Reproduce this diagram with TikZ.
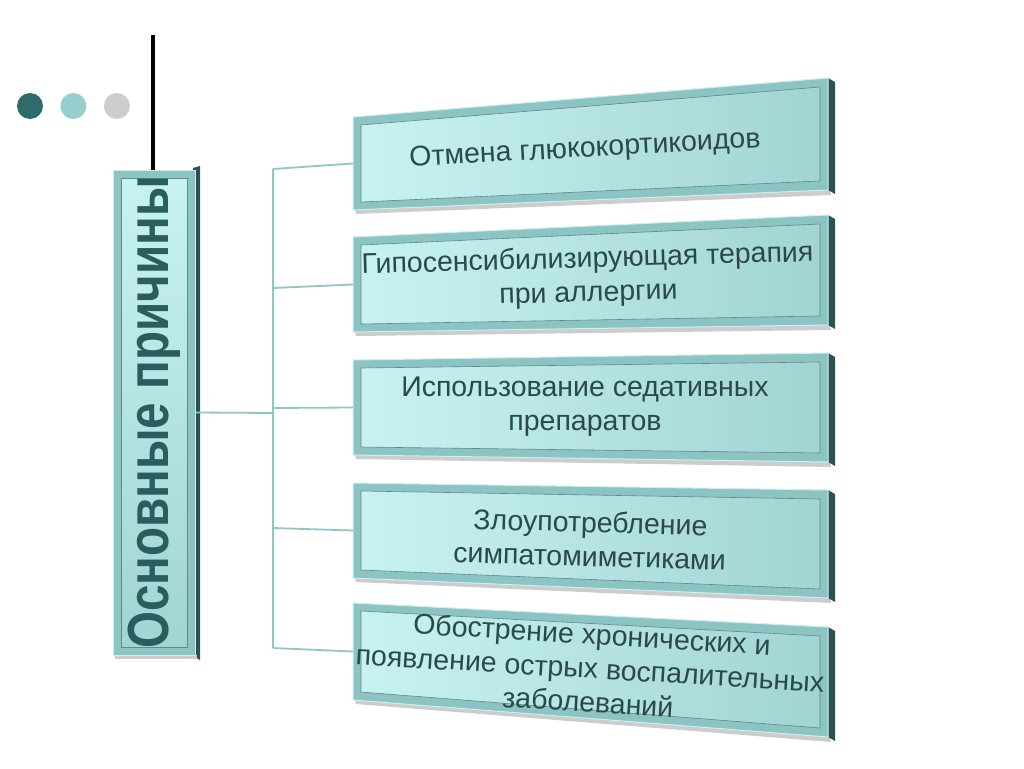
\documentclass[tikz,border=0pt]{standalone}
\usepackage{fontspec}
\setmainfont{Liberation Sans}
\usepackage{graphicx}
\usetikzlibrary{positioning}
\definecolor{cDot}{HTML}{2F6B6B}
\definecolor{cDotLt}{HTML}{96CDCD}
\definecolor{cDotGr}{HTML}{CCCCCC}
\definecolor{cFrame}{HTML}{8CC3C3}
\definecolor{cFrameLt}{HTML}{CDEFEF}
\definecolor{cFill}{HTML}{C8F2F2}
\definecolor{cFillDk}{HTML}{A2D4D4}
\definecolor{cEdge}{HTML}{2C5252}
\definecolor{cLink}{HTML}{8FC6C6}
\definecolor{cText}{HTML}{2A4A4A}
\definecolor{cHead}{HTML}{2A5E5E}
\tikzset{
  link/.style={draw=cLink, line width=1.8pt},
  frame/.style={fill=cFrame, draw=cFrameLt, line width=1pt},
  panel/.style={left color=cFill, right color=cFillDk, draw=cFrame!70!black, line width=0.6pt},
  rimedge/.style={fill=cEdge},
  cause/.style={align=center, font=\fontsize{28.5}{34}\selectfont, text=cText, inner sep=0pt},
  dot/.style={circle, minimum size=26pt, inner sep=0pt},
}

\begin{document}
\begin{tikzpicture}[x=1pt, y=-1pt]
    \useasboundingbox (0,0) rectangle (1024,768);
    \fill[white] (0,0) rectangle (1024,768);
    % three dots and the bar
    \node[dot, fill=cDot] (d1) at (30,106) {};
    \node[dot, fill=cDotLt, right=17pt of d1] (d2) {};
    \node[dot, fill=cDotGr, right=17pt of d2] (d3) {};
    \coordinate (bar) at (153,35);
    % cause boxes, drawn in perspective
    \foreach \n/\yl/\yL/\yr/\yR in {1/117/210/78/190, 2/237/332/215/325,
        3/360/455/353/462, 4/483/578/490/598, 5/603/700/627/737}{
      \fill[black!20] (355,\yL) -- (830,\yR) -- (831,\yR+5) -- (356,\yL+4) -- cycle;
      \fill[rimedge] (828,\yr) -- (835,\yr+4) -- (835,\yR+4) -- (828,\yR) -- cycle;
      \path[frame] (353,\yl) -- (828,\yr) -- (828,\yR) -- (353,\yL) -- cycle;
      \shade[panel] (361,\yl+8) -- (820,\yr+9) -- (820,\yR-9) -- (361,\yL-8) -- cycle;
      \coordinate (b\n) at (353,{(\yl+\yL)/2});
    }
    \node[cause, rotate=3.2] (n1) at (585,150) {Отмена глюкокортикоидов};
    \node[cause, rotate=1.6] (n2) at (588,277) {Гипосенсибилизирующая терапия\\при аллергии};
    \node[cause] (n3) at (585,407) {Использование седативных\\препаратов};
    \node[cause, rotate=-1.6] (n4) at (590,539) {Злоупотребление\\симпатомиметиками};
    \node[cause, rotate=-3.4] (n5) at (590,668) {Обострение хронических и\\появление острых воспалительных\\заболеваний};
    % main box
    \draw[line width=3.6pt] (bar) -- (153,172);
    \fill[rimedge] (193,168) -- (200,166) -- (200,660) -- (193,656) -- cycle;
    \fill[black!20] (115,655) rectangle (197,659);
    \node[frame, minimum width=82pt, minimum height=485pt, inner sep=0pt] (head) at (154,412.5) {};
    \shade[top color=cFill, bottom color=cFillDk, draw=cFrame!70!black, line width=0.6pt]
      (121,178) rectangle (187,647);
    \node[rotate=90, font=\bfseries\fontsize{58}{58}\selectfont, text=cHead] (title) at (head)
      {\scalebox{0.82}[1]{Основные причины}};
    % connectors
    \coordinate (hub) at (273,413);
    \foreach \n/\y in {1/169, 2/288, 3/408, 4/528, 5/648}
      \coordinate (t\n) at (273,\y);
    \draw[link] (t1) -- (t5);
    \draw[link] (head.east) -- (hub);
    \foreach \n in {1,...,5}
      \draw[link] (t\n) -- (b\n);
\end{tikzpicture}
\end{document}
